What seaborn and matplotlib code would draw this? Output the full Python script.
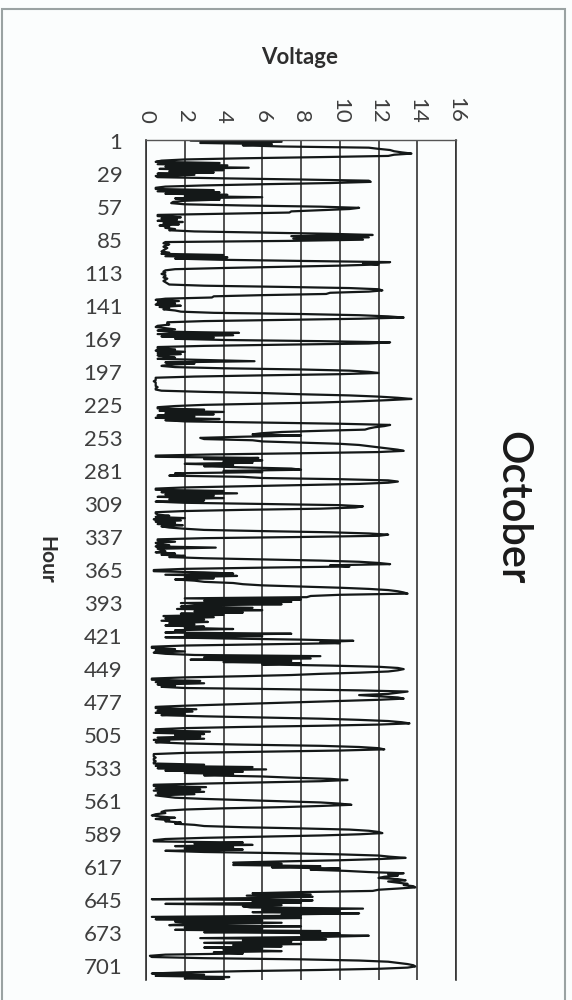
import numpy as np
import pandas as pd
import matplotlib
matplotlib.use("Agg")
import matplotlib.pyplot as plt
import seaborn as sns
from matplotlib.patches import Rectangle

# hourly voltage readings, October
volts_part1 = [2.3, 7.0, 2.8, 6.5, 5.0, 7.0,
               11.5, 12.0, 12.6, 12.8, 13.2, 13.7,
               12.8, 12.5, 9.0, 5.0, 2.0, 0.8,
               0.5, 3.8, 0.6, 4.2, 1.0, 5.3, 0.7, 4.0, 1.2, 3.5, 0.6, 2.5, 0.5, 0.6,
               4.0, 8.0, 11.5, 11.6, 9.5,
               6.0, 3.0, 1.0, 0.5,
               0.5, 3.5, 0.6, 3.8, 1.0, 4.2, 2.0, 6.0, 1.5, 3.8, 2.0, 1.4, 1.3, 2.0,
               5.0, 9.0, 11.0, 10.5, 9.0, 7.5, 7.4, 4.0, 0.6,
               0.6, 1.8, 0.8, 1.6, 0.6, 1.9, 0.9, 1.7, 0.7, 1.2, 1.0, 1.5, 1.2, 2.5,
               6.0, 9.5, 11.7, 7.5, 11.5, 7.6, 11.2, 7.5,
               1.0,
               0.9, 1.2, 1.0, 0.9, 1.1, 1.0, 0.9, 0.8, 1.2, 0.8, 4.0, 1.0, 4.2, 1.5, 3.8,
               8.0, 12.6, 11.2, 12.0, 10.0, 7.0, 4.0, 1.5,
               1.0, 0.9, 1.0, 0.8, 1.0, 1.0, 0.9, 1.1, 1.0, 0.9, 1.0, 1.1,
               1.2, 3.0, 7.0, 10.5, 12.0, 12.2, 11.5, 9.5, 9.3, 6.0, 3.5, 3.4, 1.0,
               0.5, 1.7, 0.6, 1.5, 0.5, 1.8, 0.7, 1.2, 0.9, 1.5, 1.8,
               3.5, 8.0, 11.0, 12.5, 13.3,
               11.0, 7.0, 3.0, 1.1]
volts_part2 = [1.1, 1.2, 0.6, 0.5, 1.0, 1.5, 0.6, 1.2, 4.8, 0.6, 4.5, 0.8, 3.5, 1.5,
               4.0, 9.0, 12.6, 11.5, 7.0, 3.0, 0.6,
               0.6, 1.5, 0.5, 2.0, 0.6, 1.8, 0.6, 1.0, 1.5, 0.6, 3.0, 5.6, 1.0, 2.5, 1.2, 0.8, 1.5,
               4.0, 8.0, 10.5, 11.5, 12.0,
               10.0, 6.0, 2.5, 0.5,
               0.5, 0.5, 0.4, 0.5, 0.5, 0.5, 0.5, 0.6, 0.5, 0.5, 0.8,
               3.0, 6.0, 8.0, 10.5, 12.0, 13.0, 13.7,
               12.5, 11.0, 9.0, 6.0, 3.0, 1.5, 0.6,
               0.6, 3.0, 0.7, 4.0, 1.0, 3.5, 0.6, 2.5, 0.5, 3.8, 1.0, 2.0,
               6.0, 10.0, 12.6, 12.3, 11.8, 11.5, 11.3, 9.0, 7.0,
               6.0, 5.5, 8.0, 5.0, 2.8, 3.0, 5.5, 6.0, 8.0, 10.0, 11.0, 11.5, 12.0, 12.5, 13.0, 13.3,
               12.0, 8.0, 3.5, 0.5,
               0.5, 5.8, 3.0, 6.0, 4.0, 5.5, 2.0, 4.5, 3.0, 5.0, 7.5, 8.0, 4.0, 6.0, 1.5, 2.0, 1.2, 5.0,
               6.0, 10.0, 12.5, 13.0,
               12.5, 11.0, 8.0, 5.0, 2.0, 0.5,
               0.5, 4.0, 0.8, 4.7, 1.0, 3.5, 0.6, 4.0, 1.2, 3.0, 0.5, 2.0,
               6.0, 10.0, 11.2,
               10.8, 9.0, 5.0, 2.0, 0.5]
volts_part3 = [0.5, 0.6, 1.2, 0.5, 2.0, 0.4, 1.8, 0.5, 1.5, 0.6, 1.9, 0.8, 1.2, 2.0, 3.0,
               6.0, 9.5, 11.5, 12.5,
               12.0, 8.0, 3.0, 0.6,
               0.6, 1.5, 0.5, 0.6, 1.2, 0.5, 3.6, 0.6, 0.8, 1.0, 0.5, 1.5, 0.8, 2.0, 1.2, 3.0,
               6.0, 9.0, 11.0, 12.0, 12.6,
               9.5, 10.5, 6.0, 2.0, 0.4,
               0.4, 3.0, 4.5, 1.0, 4.7, 2.0, 3.5, 1.5, 2.5, 3.0,
               4.5, 5.0, 6.0, 8.0, 10.0, 11.5, 12.5, 13.0, 13.3, 13.5,
               10.0, 8.5,
               8.3, 2.0, 8.0, 3.0, 7.5, 1.8, 7.0, 2.5,
               1.8, 5.5, 1.6, 6.0, 2.5, 5.0, 1.8, 4.0,
               0.9, 3.5, 1.0, 3.0, 0.8, 3.2, 1.2, 2.5, 1.0, 3.0, 2.0, 4.5, 1.5, 2.0,
               1.0, 7.5, 2.0, 6.0,
               1.0, 4.0, 8.0, 10.7, 9.0, 10.0, 6.0, 2.0, 0.3,
               0.3, 1.5, 0.5, 2.0, 0.4, 1.0,
               2.5, 9.0, 3.0, 8.5, 2.3, 7.5, 4.0, 8.0, 6.0,
               9.5, 12.0, 13.0, 13.3,
               13.0, 12.5, 11.0, 9.0, 7.5, 5.0, 2.0, 0.3,
               0.3, 2.8, 0.5, 3.0, 0.6, 1.5, 0.8, 2.0,
               7.0, 11.0, 13.5,
               13.0, 12.5, 11.0, 12.0, 13.0, 13.3,
               12.0, 10.0, 8.0, 6.0, 4.0, 2.0, 0.5]
volts_part4 = [0.5, 2.6, 0.6, 2.4, 0.5, 2.0, 0.8,
               3.0, 6.0, 9.0, 11.0, 12.5, 13.2, 13.6,
               12.0, 9.0, 5.0, 2.0, 0.5,
               0.5, 3.3, 0.4, 3.0, 1.5, 2.8, 0.6, 3.0, 0.4, 1.2, 0.5, 2.0,
               5.0, 9.0, 11.0, 12.0, 12.3,
               10.0, 6.0, 2.0, 0.4,
               0.4, 0.4, 0.5, 0.4, 0.4, 0.5, 0.4, 0.4, 3.0, 0.5, 5.5, 0.6, 6.2, 1.0, 5.0, 2.0, 4.5, 3.0,
               6.0, 7.5, 9.5, 10.4,
               9.0, 6.0, 3.0, 0.4,
               0.4, 3.1, 0.5, 2.8, 0.4, 3.0, 0.6, 2.5, 0.5, 1.0,
               1.5, 3.0, 5.0, 7.0, 9.0, 10.0, 10.6,
               9.0, 7.0, 4.0, 2.0, 1.0,
               0.8, 1.0, 0.5, 0.3, 0.8, 1.5, 0.5, 1.2, 1.0, 1.8, 1.5, 2.5, 3.0,
               5.0, 8.0, 10.5, 11.5, 12.0, 12.2,
               11.0, 9.0, 6.0, 3.0, 1.0, 0.4,
               0.4, 5.0, 2.5, 5.5, 1.5, 4.5, 2.0, 5.0, 1.0, 3.0,
               7.0, 10.0, 12.0, 12.6, 13.4,
               12.0, 10.0, 7.0, 4.5,
               7.0, 4.5, 9.0, 6.5, 10.0, 8.5,
               10.3, 11.5, 13.3, 12.5, 13.0, 12.3, 12.0, 13.0, 13.4, 12.5, 13.0, 13.5, 13.3, 13.8, 13.9, 13.0, 12.0,
               11.7, 8.0, 5.5, 8.5, 5.2, 8.6, 6.0]
volts_part5 = [0.3, 8.6, 5.5, 8.0, 1.0, 7.0, 5.0,
               5.4, 11.2, 6.0, 10.0, 5.5, 11.0, 7.0, 8.0,
               0.3, 8.0, 0.5, 6.0, 1.5, 7.0, 2.0,
               1.2, 8.0, 2.0, 6.0, 1.5, 9.0, 3.0, 10.0, 8.0, 11.5,
               9.0, 2.8, 9.3, 5.0, 7.5, 3.0, 8.0, 4.5, 7.0, 3.0, 6.0, 4.0, 7.0, 3.5, 5.0,
               1.0, 0.2, 0.3, 3.0, 8.0,
               11.0, 12.5, 13.0, 13.5, 13.8, 13.9,
               13.5, 12.0, 9.0, 5.0, 2.0, 0.3,
               3.0, 0.5, 4.3, 2.0, 4.0]

volts = volts_part1 + volts_part2 + volts_part3 + volts_part4 + volts_part5
hours = np.arange(1, len(volts) + 1)
hour_ticks = list(range(1, len(volts), 28))
volt_ticks = list(range(0, 17, 2))

df = pd.DataFrame({"Hour": hours, "Voltage": volts})

sns.set_theme(style="white")
plt.rcParams["font.family"] = ["Lato", "DejaVu Sans"]

fig = plt.figure(figsize=(5.72, 10), dpi=100)
fig.patch.set_facecolor("#fbfdfd")
ax = fig.add_axes([146 / 572, 1 - 980 / 1000, (456 - 146) / 572, (980 - 140) / 1000])
ax.set_facecolor("#fbfdfd")

sns.lineplot(data=df, x="Voltage", y="Hour", sort=False, estimator=None,
             orient="y", color="#141818", lw=1.6, ax=ax)

ax.set_xlim(0, 16)
ax.set_ylim(len(volts) + 0.5, 0.5)

ax.xaxis.tick_top()
ax.set_xticks(volt_ticks)
ax.set_xticklabels([str(v) for v in volt_ticks], rotation=-90, fontsize=16, color="#3f3f3f")
ax.set_yticks(hour_ticks)
ax.set_yticklabels([str(h) for h in hour_ticks], fontsize=16, color="#3f3f3f")
ax.tick_params(axis="x", length=0, pad=12)
ax.tick_params(axis="y", length=0, pad=17)
ax.set_xlabel("")
ax.set_ylabel("")

ax.grid(axis="x", color="#333333", lw=1.2)
ax.grid(axis="y", visible=False)
ax.spines["bottom"].set_visible(False)
ax.spines["top"].set_color("#555555")
ax.spines["top"].set_linewidth(1.0)
for side in ["left", "right"]:
    ax.spines[side].set_color("#333333")
    ax.spines[side].set_linewidth(1.2)

fig.text(300 / 572, 1 - 58 / 1000, "Voltage", ha="center", va="center",
         fontsize=16, fontweight="bold", color="#2e2e2e")
fig.text(46 / 572, 1 - 560 / 1000, "Hour", ha="center", va="center", rotation=-90,
         fontsize=15, fontweight="bold", color="#2e2e2e")
fig.text(512 / 572, 1 - 508 / 1000, "October", ha="center", va="center", rotation=-90,
         fontsize=30, fontweight="semibold", color="#1a1a1a")

fig.patches.append(Rectangle((2 / 572, -0.01), (565 - 2) / 572, 1.0 - 9 / 1000 + 0.01,
                             transform=fig.transFigure, fill=False,
                             edgecolor="#9aa2a2", lw=1.5))

fig.savefig("out.png", dpi=100, facecolor=fig.get_facecolor())
